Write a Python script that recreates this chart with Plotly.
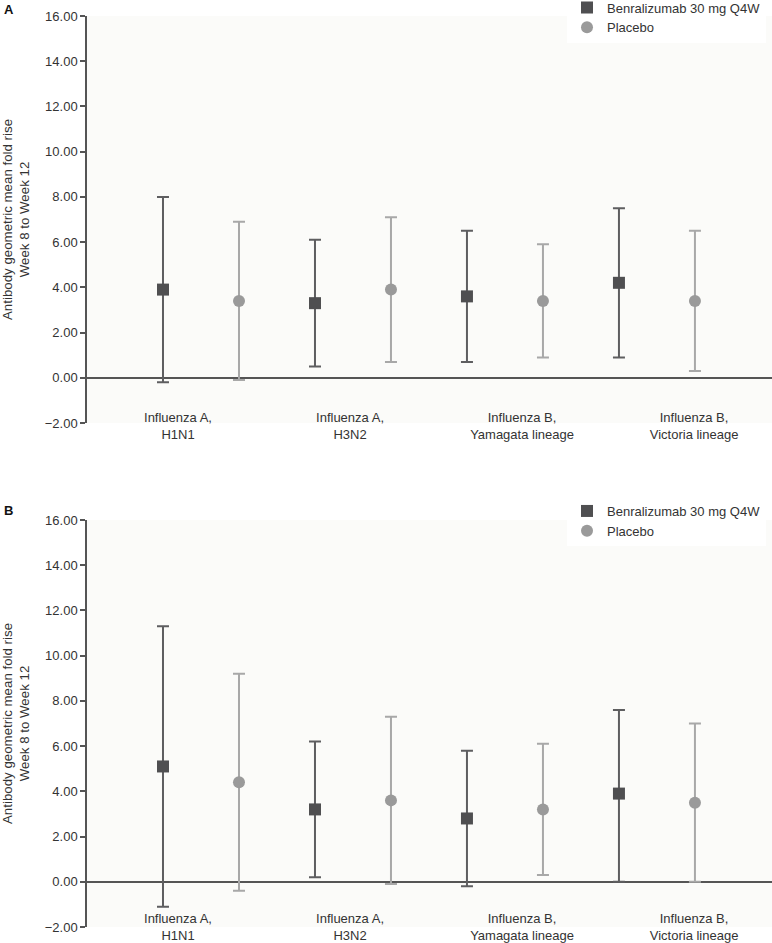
import plotly.graph_objects as go

# ---------------- data ----------------
categories = ["Influenza A,<br>H1N1", "Influenza A,<br>H3N2",
              "Influenza B,<br>Yamagata lineage", "Influenza B,<br>Victoria lineage"]
series_names = ["Benralizumab 30 mg Q4W", "Placebo"]
panel_letters = ["A", "B"]
y_ticks = [-2, 0, 2, 4, 6, 8, 10, 12, 14, 16]
y_title = "Antibody geometric mean fold rise<br>Week 8 to Week 12"

# Panel A
a_benra_mean = [3.9, 3.3, 3.6, 4.2]
a_benra_low = [-0.2, 0.5, 0.7, 0.9]
a_benra_high = [8.0, 6.1, 6.5, 7.5]
a_placebo_mean = [3.4, 3.9, 3.4, 3.4]
a_placebo_low = [-0.1, 0.7, 0.9, 0.3]
a_placebo_high = [6.9, 7.1, 5.9, 6.5]

# Panel B
b_benra_mean = [5.1, 3.2, 2.8, 3.9]
b_benra_low = [-1.1, 0.2, -0.2, 0.0]
b_benra_high = [11.3, 6.2, 5.8, 7.6]
b_placebo_mean = [4.4, 3.6, 3.2, 3.5]
b_placebo_low = [-0.4, -0.1, 0.3, 0.0]
b_placebo_high = [9.2, 7.3, 6.1, 7.0]

# ---------------- styling ----------------
W, H = 772, 943
ML = 87
FONT = "Liberation Sans, Arial, sans-serif"
AXIS_COLOR = "#555555"
TEXT_COLOR = "#333333"
BENRA_MARKER = "#4f4f51"
BENRA_BAR = "#5e5e60"
PLAC_MARKER = "#9a9a9a"
PLAC_BAR = "#a8a8a8"
OFFSET = 0.25

panels = [
    dict(benra=(a_benra_mean, a_benra_low, a_benra_high),
         plac=(a_placebo_mean, a_placebo_low, a_placebo_high),
         top_px=16, bot_px=423, label_px=408, legend_px=-7.5, letter_px=0),
    dict(benra=(b_benra_mean, b_benra_low, b_benra_high),
         plac=(b_placebo_mean, b_placebo_low, b_placebo_high),
         top_px=520, bot_px=927, label_px=909, legend_px=496, letter_px=501),
]

fig = go.Figure()
idx = list(range(len(categories)))


def py(px):
    return 1 - px / H


for p, panel in enumerate(panels):
    n = "" if p == 0 else str(p + 1)
    legend_name = "legend" if p == 0 else "legend2"
    lab = str(3 + p)
    for s, (key, mcol, bcol, sym) in enumerate([
        ("benra", BENRA_MARKER, BENRA_BAR, "square"),
        ("plac", PLAC_MARKER, PLAC_BAR, "circle"),
    ]):
        mean, low, high = panel[key]
        xs = [i + (-OFFSET if s == 0 else OFFSET) for i in idx]
        fig.add_trace(go.Scatter(
            x=xs, y=mean, mode="markers", name=series_names[s],
            xaxis="x" + n, yaxis="y" + n, legend=legend_name,
            marker=dict(symbol=sym, size=12, color=mcol, line=dict(width=0)),
            error_y=dict(type="data", symmetric=False,
                         array=[h - m for h, m in zip(high, mean)],
                         arrayminus=[m - l for m, l in zip(mean, low)],
                         color=bcol, thickness=2, width=6),
            showlegend=True, hoverinfo="x+y",
        ))
    # invisible carrier trace so the category-label axis is drawn
    fig.add_trace(go.Scatter(
        x=idx, y=[0] * len(idx), mode="markers", xaxis="x" + lab, yaxis="y" + n,
        marker=dict(opacity=0), showlegend=False, hoverinfo="skip",
    ))

    dom = [py(panel["bot_px"]), py(panel["top_px"])]
    fig.layout["yaxis" + n] = dict(
        domain=dom, anchor="x" + n, range=[-2, 16], tickvals=y_ticks,
        tickformat=".2f", ticks="outside", ticklen=5, tickwidth=1.5,
        tickcolor=AXIS_COLOR, showline=True, linecolor=AXIS_COLOR, linewidth=1.5,
        zeroline=True, zerolinecolor=AXIS_COLOR, zerolinewidth=1.5,
        showgrid=False, automargin=False,
        tickfont=dict(size=13, color=TEXT_COLOR, family=FONT),
        title=dict(text=y_title, font=dict(size=13.3, color=TEXT_COLOR, family=FONT)),
    )
    fig.layout["xaxis" + n] = dict(
        domain=[0, 1], anchor="y" + n, range=[-0.75, 3.757],
        showline=False, showticklabels=False, zeroline=False, showgrid=False,
        ticks="", automargin=False,
    )
    fig.layout["xaxis" + lab] = dict(
        overlaying="x" + n, anchor="free", position=py(panel["label_px"]),
        range=[-0.529, 3.453], tickmode="array", tickvals=idx, ticktext=categories,
        showline=False, zeroline=False, showgrid=False, ticks="", automargin=False,
        tickfont=dict(size=13, color=TEXT_COLOR, family=FONT),
    )
    fig.layout[legend_name] = dict(
        x=(567 - ML) / (W - ML), xanchor="left",
        y=py(panel["legend_px"]), yanchor="top",
        bgcolor="white", font=dict(size=13, color=TEXT_COLOR, family=FONT),
        itemwidth=30, tracegroupgap=0,
    )
    fig.add_annotation(
        text="<b>" + panel_letters[p] + "</b>", xref="paper", yref="paper",
        x=(2 - ML) / (W - ML), y=py(panel["letter_px"]), xanchor="left", yanchor="top",
        showarrow=False, font=dict(size=13, color="#111111", family=FONT),
    )

fig.update_layout(
    width=W, height=H,
    margin=dict(l=ML, r=0, t=0, b=0, autoexpand=False),
    paper_bgcolor="white", plot_bgcolor="#fbfbf9",
    font=dict(family=FONT, color=TEXT_COLOR),
)

fig.write_html("out.html",
               config={"displayModeBar": False},
               post_script="document.body.style.margin='0';document.body.style.overflow='hidden';")
